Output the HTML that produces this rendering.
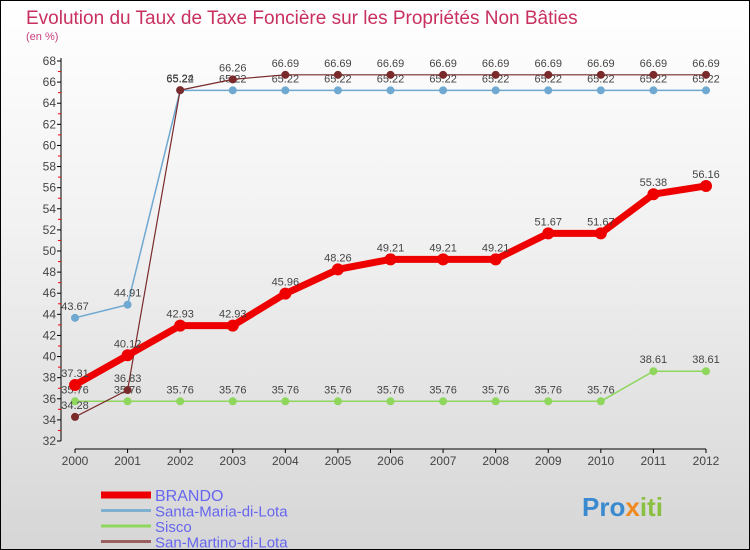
<!DOCTYPE html>
<html><head><meta charset="utf-8"><style>
html,body{margin:0;padding:0}
body{width:750px;height:550px;overflow:hidden;font-family:"Liberation Sans",sans-serif}
#wrap{position:relative;width:748px;height:548px;border:1px solid #000;background:linear-gradient(#fff 0%,#f2f2f2 40%,#d6d6d6 100%)}
#chart{position:absolute;left:-1px;top:-1px}
</style></head><body>
<div id="wrap">
<svg id="chart" width="750" height="550" xmlns="http://www.w3.org/2000/svg">
<text x="26" y="24" font-size="19" fill="#c8305f">Evolution du Taux de Taxe Foncière sur les Propriétés Non Bâties</text>
<text x="26" y="40" font-size="11" fill="#c8407f">(en %)</text>
<g id="axes"></g><g id="series"></g><g id="legend"></g>
<text x="582" y="516" font-size="26" font-weight="bold" fill="#3a8ad0">Pro<tspan fill="#f08a20">x</tspan><tspan fill="#8ac040">iti</tspan></text>
</svg>
</div>
<script>
const years = ["2000","2001","2002","2003","2004","2005","2006","2007","2008","2009","2010","2011","2012"];
const yTicks = [32,34,36,38,40,42,44,46,48,50,52,54,56,58,60,62,64,66,68];
const brando = [37.31,40.12,42.93,42.93,45.96,48.26,49.21,49.21,49.21,51.67,51.67,55.38,56.16];
const santaMaria = [43.67,44.91,65.22,65.22,65.22,65.22,65.22,65.22,65.22,65.22,65.22,65.22,65.22];
const sisco = [35.76,35.76,35.76,35.76,35.76,35.76,35.76,35.76,35.76,35.76,35.76,38.61,38.61];
const sanMartino = [34.28,36.83,65.24,66.26,66.69,66.69,66.69,66.69,66.69,66.69,66.69,66.69,66.69];
const seriesNames = ["BRANDO","Santa-Maria-di-Lota","Sisco","San-Martino-di-Lota"];

const NS="http://www.w3.org/2000/svg";
const X=i=>75+i*(631/12);
const Y=v=>441-(v-32)*(380/36);
function mk(tag,attrs,parent){const e=document.createElementNS(NS,tag);for(const k in attrs)e.setAttribute(k,attrs[k]);parent.appendChild(e);return e;}
const axes=document.getElementById('axes');
let l=mk('line',{x1:61,y1:58,x2:61,y2:441,stroke:'#000','stroke-width':1},axes);


yTicks.forEach((t,i)=>{
  const y=Y(t);
  let tk=mk('line',{x1:57,y1:y,x2:61,y2:y,stroke:'#000'},axes);
  
  
  if(i<yTicks.length-1){let m=mk('line',{x1:58,y1:Y(t+1),x2:61,y2:Y(t+1),stroke:'#e00'},axes);
  
  }
  let tx=mk('text',{x:56,y:y+4,'font-size':12,fill:'#444','text-anchor':'end'},axes);tx.textContent=t;
  
  
});
l=mk('line',{x1:75,y1:449,x2:706,y2:449,stroke:'#000'},axes);


years.forEach((yr,i)=>{
  let tk=mk('line',{x1:X(i),y1:449,x2:X(i),y2:453,stroke:'#000'},axes);
  
  
  let tx=mk('text',{x:X(i),y:465,'font-size':12,fill:'#444','text-anchor':'middle'},axes);tx.textContent=yr;
  
  
});
const sg=document.getElementById('series');
function drawSeries(vals,color,w,r,name){
  const g=mk('g',{},sg);
  
  
  const p=mk('polyline',{points:vals.map((v,i)=>X(i)+','+Y(v)).join(' '),fill:'none',stroke:color,'stroke-width':w,'stroke-linejoin':'round'},g);
  
  
  vals.forEach((v,i)=>{
    const c=mk('circle',{cx:X(i),cy:Y(v),r:r,fill:color},g);
    
    
    const t=mk('text',{x:X(i),y:Y(v)-8,'font-size':11,fill:'#444','text-anchor':'middle'},g);
    t.textContent=v.toFixed(2);
    
    
  });
}
drawSeries(sisco,'#8ed65c',1.5,4,'sisco');
drawSeries(santaMaria,'#6fa8d0',1.5,4,'santa-maria-di-lota');
drawSeries(sanMartino,'#7a2a2a',1.2,4,'san-martino-di-lota');
drawSeries(brando,'#ee0000',7,6,'brando');
const lg=document.getElementById('legend');
const lcol=['#ee0000','#7fb0cf','#8ed65c','#9a5f5f'];
const lw=[7,3,3,3];
seriesNames.forEach((n,i)=>{
  const y=493+i*15.5;
  const ln=mk('line',{x1:101,y1:y+2,x2:151,y2:y+2,stroke:lcol[i],'stroke-width':lw[i]},lg);
  
  
  const t=mk('text',{x:155,y:y+8,'font-size':i==0?16:15,fill:'#6666ee'},lg);t.textContent=n;
  
  
});
</script>
</body></html>
